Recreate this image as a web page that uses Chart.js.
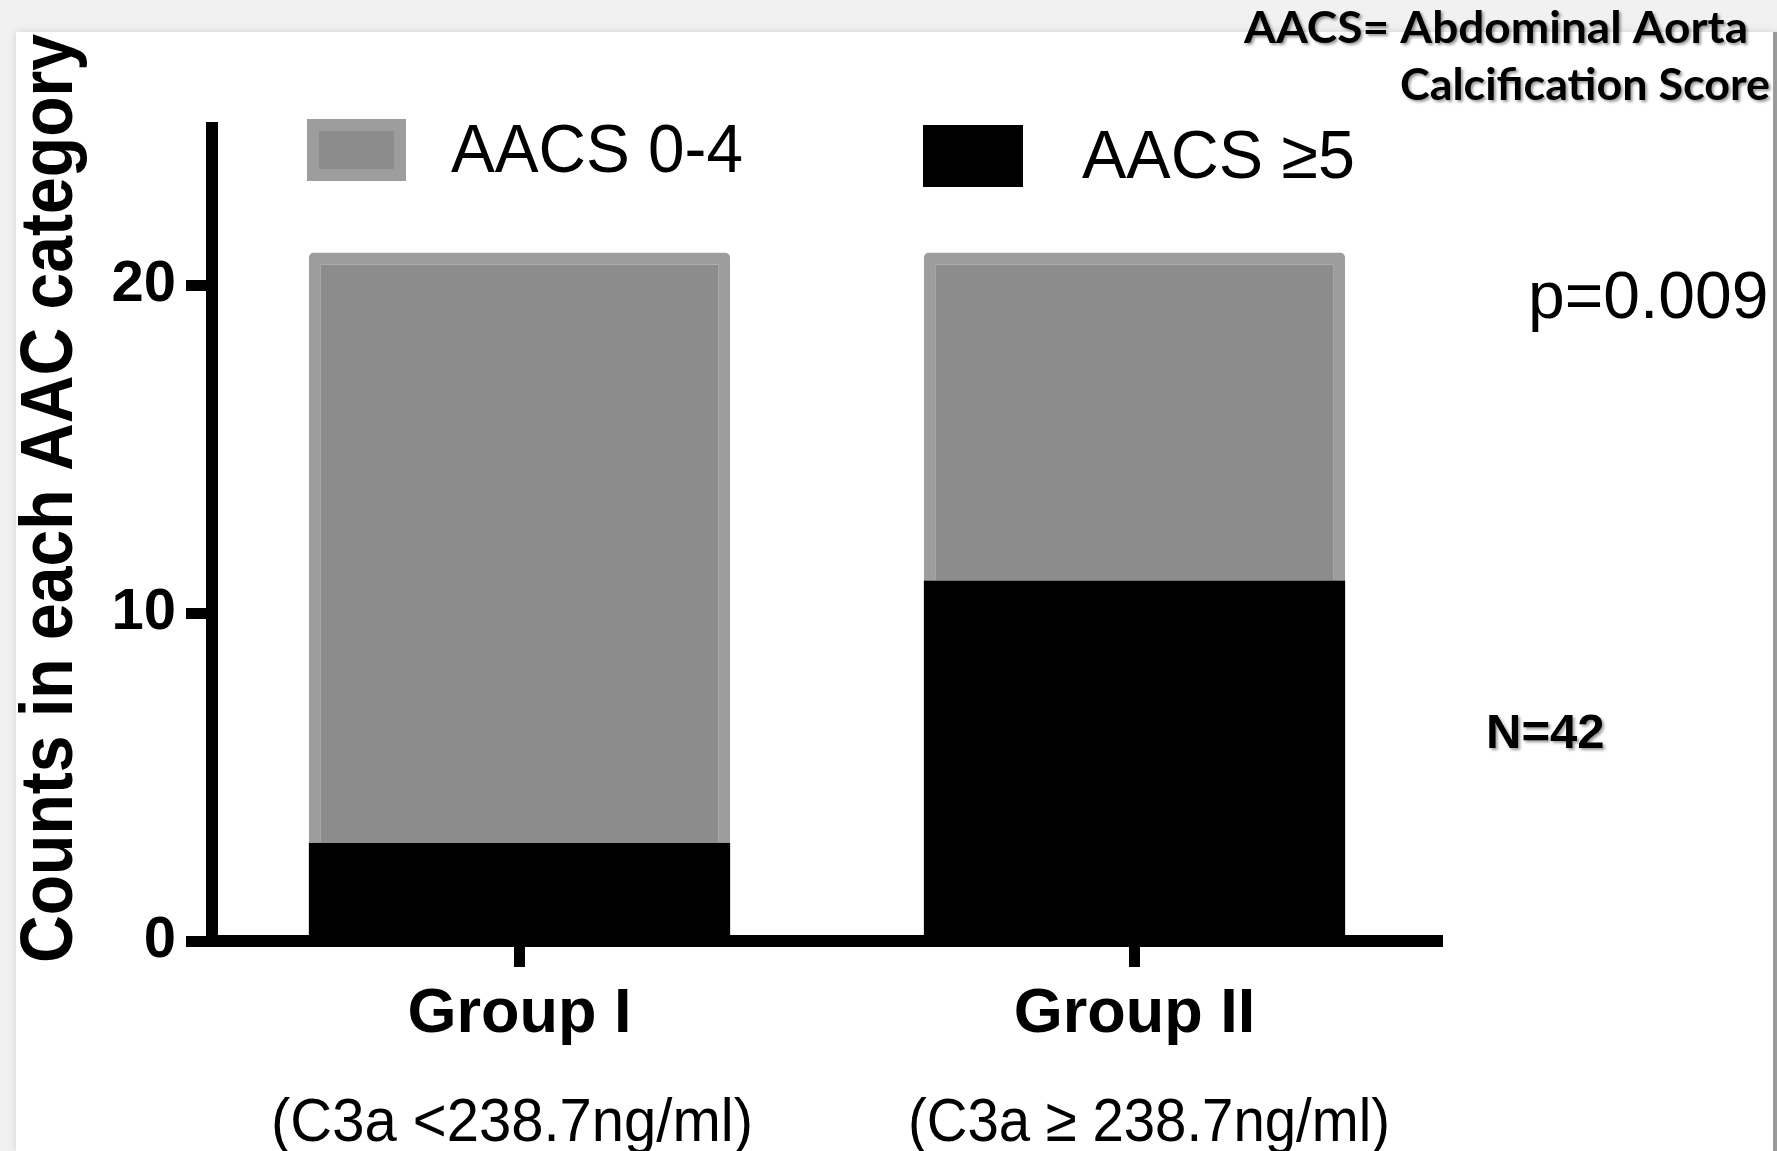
<!DOCTYPE html>
<html lang="en">
<head>
<meta charset="UTF-8">
<title>AACS category counts by C3a group</title>
<script src="https://cdn.jsdelivr.net/npm/chart.js"></script>
<style>
  html, body { margin: 0; padding: 0; }
  body { width: 1777px; height: 1151px; background: #f1f1f1; position: relative; overflow: hidden; }
  #panel {
    position: absolute; left: 16px; top: 32px; width: 1757px; height: 1119px;
    background: #fff; border-right: 4px solid #9a9a9a;
    box-shadow: 0 0 8px rgba(0, 0, 0, 0.12);
  }
  #wrap { position: absolute; left: 0; top: 0; width: 1777px; height: 1151px; }
</style>
</head>
<body>
<div id="panel"></div>
<div id="wrap"><canvas id="aacsChart" width="1777" height="1151"></canvas></div>
<script>
// values
var groups = ['Group I', 'Group II'];
var groupNotes = ['(C3a <238.7ng/ml)', '(C3a \u2265 238.7ng/ml)'];
var aacsHigh = [3, 11];   // AACS >=5
var aacsLow = [18, 10];   // AACS 0-4
var yTicks = [0, 10, 20];

var ARIAL = "'Liberation Sans', Arial, sans-serif";

// draw text squeezed/stretched to a given width
function fitText(ctx, text, x, y, width) {
  var w = ctx.measureText(text).width;
  ctx.save();
  ctx.translate(x, y);
  ctx.scale(width / w, 1);
  ctx.fillText(text, 0, 0);
  ctx.restore();
}

var extras = {
  id: 'extras',
  afterDraw: function(chart) {
    var ctx = chart.ctx;
    ctx.save();
    ctx.fillStyle = '#000';
    ctx.textBaseline = 'alphabetic';

    // y title
    ctx.save();
    ctx.font = 'bold 74px ' + ARIAL;
    ctx.textAlign = 'left';
    ctx.translate(72, 963);
    ctx.rotate(-Math.PI / 2);
    fitText(ctx, 'Counts in each AAC category', 0, 0, 929);
    ctx.restore();

    // second line under each group (slightly off the tick in the original)
    var noteX = [271, 908];
    ctx.font = '62px ' + ARIAL;
    ctx.textAlign = 'left';
    groupNotes.forEach(function(t, i) {
      fitText(ctx, t, noteX[i], 1141, 482);
    });

    // legend inside the plot
    var spots = [
      { ds: 1, x: 307, y: 119, w: 99, h: 62, tx: 451, ty: 172 },
      { ds: 0, x: 923, y: 125, w: 100, h: 62, tx: 1082, ty: 178 }
    ];
    spots.forEach(function(s) {
      var ds = chart.data.datasets[s.ds];
      if (ds.borderWidth) {
        ctx.fillStyle = ds.borderColor;
        ctx.fillRect(s.x, s.y, s.w, s.h);
        ctx.fillStyle = ds.backgroundColor;
        ctx.fillRect(s.x + 12, s.y + 12, s.w - 24, s.h - 24);
      } else {
        ctx.fillStyle = ds.backgroundColor;
        ctx.fillRect(s.x, s.y, s.w, s.h);
      }
      ctx.fillStyle = '#000';
      ctx.font = '68px ' + ARIAL;
      ctx.textAlign = 'left';
      fitText(ctx, ds.label, s.tx, s.ty, s.ds === 1 ? 292 : 273);
    });

    // p value
    ctx.font = '66px ' + ARIAL;
    ctx.textAlign = 'left';
    ctx.fillText('p=0.009', 1528, 318);

    // shadowed notes
    ctx.shadowColor = 'rgba(0,0,0,0.4)';
    ctx.shadowOffsetX = 2;
    ctx.shadowOffsetY = 2;
    ctx.shadowBlur = 3;
    ctx.font = 'bold 49px ' + ARIAL;
    ctx.fillText('N=42', 1486, 748);

    ctx.font = "bold 43px Lato, 'Open Sans', sans-serif";
    fitText(ctx, 'AACS= Abdominal Aorta', 1244, 43, 504);
    fitText(ctx, 'Calcification Score', 1400, 100, 370);
    ctx.restore();
  }
};

new Chart(document.getElementById('aacsChart'), {
  type: 'bar',
  data: {
    labels: groups,
    datasets: [
      {
        label: 'AACS \u22655',
        data: aacsHigh,
        backgroundColor: '#000000',
        borderWidth: 0,
        borderRadius: 4,
        borderSkipped: 'bottom'
      },
      {
        label: 'AACS 0-4',
        data: aacsLow,
        backgroundColor: '#8c8c8c',
        borderColor: '#9d9d9d',
        borderWidth: 12,
        borderRadius: 5,
        borderSkipped: 'bottom'
      }
    ]
  },
  options: {
    responsive: false,
    devicePixelRatio: 1,
    animation: false,
    barPercentage: 0.685,
    categoryPercentage: 1,
    layout: { padding: { left: 0, top: 128, right: 335, bottom: 0 } },
    plugins: {
      legend: { display: false },
      tooltip: { enabled: false }
    },
    scales: {
      x: {
        stacked: true,
        afterFit: function(s) { s.height = 210; },
        grid: { offset: false, drawOnChartArea: false, drawTicks: true, tickLength: 26, tickWidth: 11, tickColor: '#000' },
        border: { display: true, color: '#000', width: 12 },
        ticks: { color: '#000', padding: 10, maxRotation: 0, font: { family: ARIAL, size: 63, weight: 'bold' } }
      },
      y: {
        stacked: true,
        min: 0,
        max: 24.8,
        afterFit: function(s) { s.width = 212; },
        afterBuildTicks: function(s) { s.ticks = yTicks.map(function(v) { return { value: v }; }); },
        grid: { drawOnChartArea: false, drawTicks: true, tickLength: 26, tickWidth: 11, tickColor: '#000' },
        border: { display: true, color: '#000', width: 12 },
        ticks: { color: '#000', padding: 10, font: { family: ARIAL, size: 58, weight: 'bold' } }
      }
    }
  },
  plugins: [extras]
});
</script>
</body>
</html>
